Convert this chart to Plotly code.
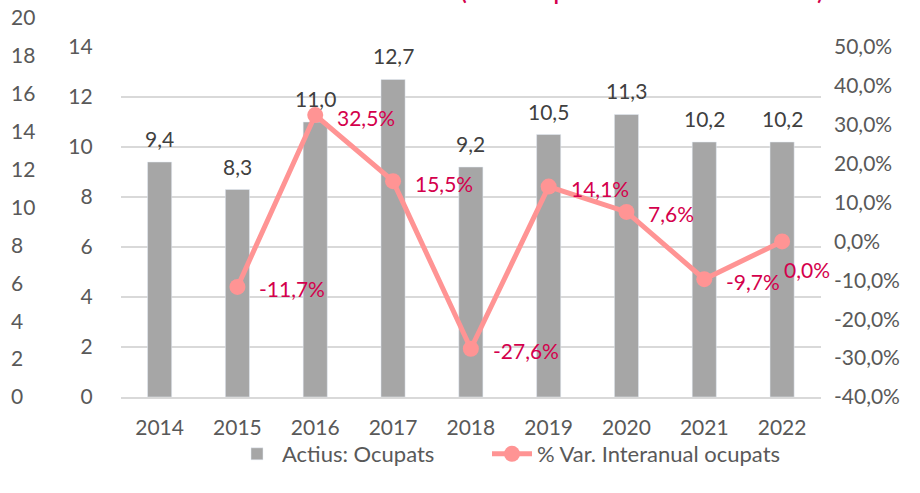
import plotly.graph_objects as go

# ---- data ----
years = [2014, 2015, 2016, 2017, 2018, 2019, 2020, 2021, 2022]
ocupats = [9.4, 8.3, 11.0, 12.7, 9.2, 10.5, 11.3, 10.2, 10.2]
var_years = [2015, 2016, 2017, 2018, 2019, 2020, 2021, 2022]
var_pct = [-11.7, 32.5, 15.5, -27.6, 14.1, 7.6, -9.7, 0.0]
left_ticks = [0, 2, 4, 6, 8, 10, 12, 14]
outer_ticks = [0, 2, 4, 6, 8, 10, 12, 14, 16, 18, 20]
right_ticks = [-40, -30, -20, -10, 0, 10, 20, 30, 40, 50]
bar_name = 'Actius: Ocupats'
line_name = '% Var. Interanual ocupats'
title_text = '(milers de persones i variació interanual)'

FONT = 'Lato'
GRAY_TXT = '#595959'
RED_TXT = '#D4004C'
LINE_COL = '#FF9494'
BAR_COL = '#A6A6A6'
GRID = '#D9D9D9'


def fmt1(v):
    return f'{v:.1f}'.replace('.', ',')


fig = go.Figure()
fig.add_trace(go.Bar(x=years, y=ocupats, name=bar_name, marker_color=BAR_COL,
                     xaxis='x', yaxis='y', hoverinfo='skip', legend='legend'))
fig.add_trace(go.Scatter(x=var_years, y=var_pct, name=line_name, xaxis='x', yaxis='y2',
                         mode='lines+markers',
                         line=dict(color=LINE_COL, width=5),
                         marker=dict(color=LINE_COL, size=16), hoverinfo='skip',
                         legend='legend2'))
# carrier for the outer left axis (own hidden x axis)
fig.add_trace(go.Scatter(x=[0], y=[outer_ticks[0]], xaxis='x2', yaxis='y3', mode='markers',
                         marker=dict(opacity=0), showlegend=False, hoverinfo='skip'))

annotations = []
for x, v in zip(years, ocupats):
    annotations.append(dict(x=x, y=v, xref='x', yref='y', text=fmt1(v), showarrow=False,
                            xanchor='center', yanchor='bottom', yshift=9,
                            font=dict(family=FONT, size=21, color='#404040')))
for i, (x, v) in enumerate(zip(var_years, var_pct)):
    last = i == len(var_years) - 1
    annotations.append(dict(x=x, y=v, xref='x', yref='y2', text=fmt1(v) + '%', showarrow=False,
                            xanchor='left', yanchor='middle',
                            xshift=0 if last else 20, yshift=-28 if last else -2,
                            font=dict(family=FONT, size=21, color=RED_TXT)))

PL, PR, PT, PB = 10, 99, 18, 96
W, H = 920, 493
plot_left = 120.7
paper_w = W - PL - PR
paper_h = H - PT - PB
main_top = 47

annotations.append(dict(x=(459 - PL) / paper_w, y=1, xref='paper', yref='paper', text=title_text,
                        showarrow=False, xanchor='left', yanchor='bottom', yshift=12,
                        font=dict(family=FONT, size=20.4, color=RED_TXT, weight='bold')))

legend_common = dict(orientation='h', xanchor='left',
                     y=(H - PB - 454) / paper_h, yanchor='middle',
                     bgcolor='rgba(0,0,0,0)',
                     font=dict(family=FONT, size=22, color=GRAY_TXT),
                     itemwidth=40)

fig.update_layout(
    width=W, height=H,
    margin=dict(l=PL, r=PR, t=PT, b=PB, pad=0, autoexpand=False),
    paper_bgcolor='white', plot_bgcolor='rgba(0,0,0,0)',
    font=dict(family=FONT, size=21, color=GRAY_TXT),
    bargap=0.69,
    showlegend=True,
    legend=dict(x=(232 - PL) / paper_w, **legend_common),
    legend2=dict(x=(487 - PL) / paper_w, **legend_common),
    xaxis=dict(type='linear', domain=[(plot_left - PL) / paper_w, 1], anchor='y',
               range=[years[0] - 0.5, years[-1] + 0.5],
               tickvals=years, ticktext=[str(y) for y in years],
               showgrid=False, showline=True, linecolor=GRID, linewidth=1.5,
               zeroline=False, ticks='', ticklabelstandoff=11, automargin=False,
               tickfont=dict(size=21, color=GRAY_TXT)),
    xaxis2=dict(domain=[0, 0.01], anchor='y3', visible=False, automargin=False),
    yaxis=dict(domain=[0, (H - PB - main_top) / paper_h], range=[0, 14], anchor='x',
               tickvals=left_ticks, ticktext=[str(t) for t in left_ticks],
               showgrid=True, gridcolor=GRID, gridwidth=1.5, zeroline=False,
               ticks='', ticklabelstandoff=27, automargin=False,
               tickfont=dict(size=21, color=GRAY_TXT)),
    yaxis2=dict(overlaying='y', side='right', range=[-40, 50], anchor='x',
                tickvals=right_ticks, ticktext=[fmt1(t) + '%' for t in right_ticks],
                showgrid=False, zeroline=False, ticks='', ticklabelstandoff=12,
                automargin=False, tickfont=dict(size=21, color=GRAY_TXT)),
    yaxis3=dict(domain=[0, 1], anchor='free', position=0, side='right', range=[0, 20],
                tickvals=outer_ticks, ticktext=[str(t) for t in outer_ticks],
                showgrid=False, zeroline=False, showline=False, ticks='',
                ticklabelstandoff=0, automargin=False,
                tickfont=dict(size=21, color=GRAY_TXT)),
    annotations=annotations,
)

fig.write_html('out.html', config={'displayModeBar': False},
               post_script="document.body.style.margin='0';")
